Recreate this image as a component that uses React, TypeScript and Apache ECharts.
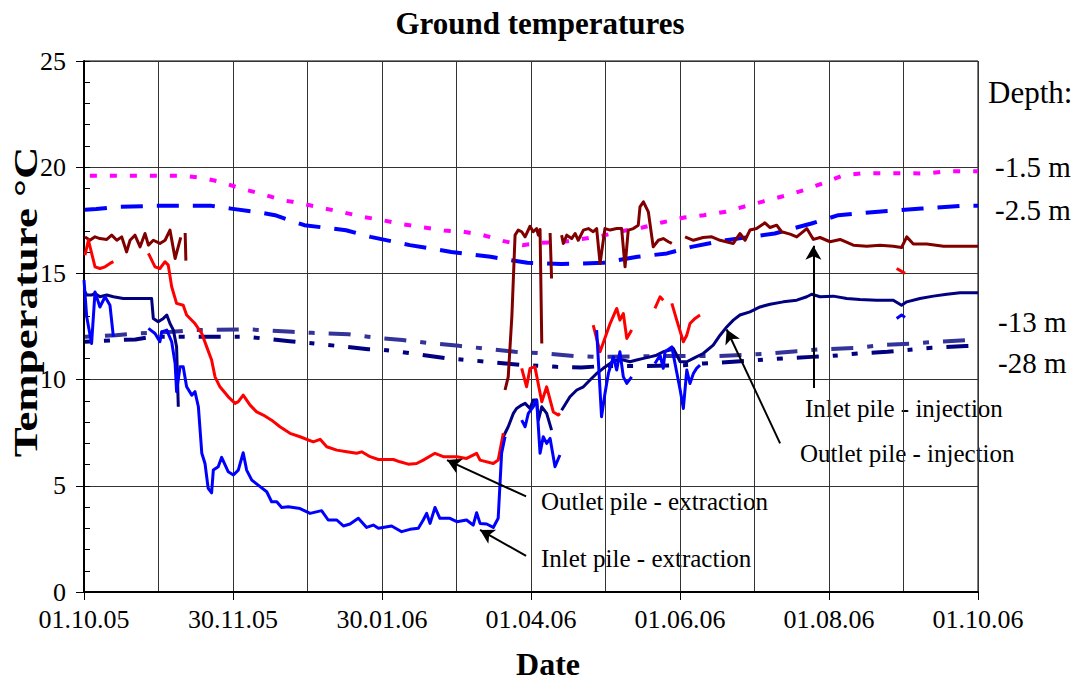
import React, { useEffect, useRef } from "react";
import * as echarts from "echarts";

const FONT = "'Liberation Serif', 'Times New Roman', serif";

// x = days since 01.10.05, y = temperature °C
const X_LABELS = ["01.10.05", "30.11.05", "30.01.06", "01.04.06", "01.06.06", "01.08.06", "01.10.06"];

type P = [number, number] | null;

const depth15: P[] = [
  [2.4, 19.6], [40, 19.6], [48, 19.5], [56, 19.3], [64, 19.0], [72, 18.76], [81, 18.45], [89, 18.29], [97, 18.09],
  [106, 17.87], [114, 17.66], [122, 17.5], [130, 17.32], [139, 17.16], [147, 17.02], [155, 16.96], [163, 16.8],
  [171, 16.53], [179, 16.33], [187, 16.44], [196, 16.49], [204, 16.63], [212, 16.78], [220, 17.0], [228, 17.16],
  [236, 17.4], [245, 17.63], [253, 17.74], [262, 17.9], [270, 18.16], [278, 18.41], [286, 18.65], [294, 18.92],
  [302, 19.26], [310, 19.62], [318, 19.72], [327, 19.72], [335, 19.72], [344, 19.7], [352, 19.81], [365, 19.81],
];

const depth25: P[] = [
  [0.4, 18.0], [5, 18.03], [13, 18.13], [28, 18.18], [52, 18.18], [60, 18.05], [70, 17.9], [78, 17.74], [90, 17.27],
  [107, 17.03], [117, 16.72], [133, 16.33], [150, 16.01], [166, 15.78], [181, 15.5], [195, 15.44], [212, 15.5],
  [226, 15.78], [238, 15.94], [248, 16.25], [262, 16.56], [282, 16.88], [297, 17.35], [308, 17.74], [328, 17.94],
  [342, 18.05], [358, 18.18], [365, 18.18],
];

const depth13: P[] = [
  [0.4, 12.02], [13, 12.09], [22, 12.17], [36, 12.25], [44, 12.33], [68, 12.36], [85, 12.25], [93, 12.2],
  [108, 12.14], [116, 12.02], [122, 11.94], [130, 11.86], [140, 11.73], [153, 11.59], [163, 11.47], [176, 11.31],
  [188, 11.23], [200, 11.11], [210, 11.07], [239, 11.11], [259, 11.11], [280, 11.23], [291, 11.34], [300, 11.42],
  [316, 11.5], [325, 11.62], [339, 11.7], [348, 11.78], [365, 11.89],
];

const depth28: P[] = [
  [0.4, 11.78], [13, 11.86], [21, 11.89], [28, 12.02], [45, 12.02], [66, 12.02], [77, 11.89], [84, 11.81],
  [94, 11.7], [107, 11.54], [116, 11.43], [122, 11.4], [129, 11.31], [139, 11.15], [148, 11.0], [157, 10.92],
  [172, 10.76], [180, 10.68], [193, 10.6], [203, 10.57], [212, 10.64], [230, 10.64], [245, 10.68], [253, 10.76],
  [265, 10.84], [286, 11.0], [297, 11.07], [305, 11.11], [316, 11.23], [328, 11.31], [336, 11.39], [346, 11.5],
  [360, 11.58], [365, 11.6],
];

const inletInjection: P[] = [
  [0.4, 16.72], [2.4, 16.56], [4.5, 16.72], [6.5, 16.64], [9.3, 16.6], [11.3, 16.8], [13.4, 16.56], [15.4, 16.72],
  [17.4, 16.01], [18.8, 16.56], [20.8, 16.8], [22.9, 16.25], [24.9, 16.88], [26.3, 16.33], [28.3, 16.56],
  [31.0, 16.41], [33.1, 16.56], [35.1, 17.04], [37.2, 15.7], [39.5, 16.7], null, [41.3, 16.9], [41.6, 15.6], null,
  [171.9, 9.51], [173.2, 10.13], [174.7, 13.0], [176.0, 16.8], [177.3, 17.04], [178.7, 16.96], [180.1, 16.72],
  [182.1, 17.22], [183.4, 16.96], [184.8, 17.11], [185.5, 16.8], [186.2, 17.07], [186.9, 11.7], null,
  [190.3, 16.9], [190.9, 14.76], null,
  [195.0, 16.8], [195.7, 16.41], [197.1, 16.8], [199.1, 16.64], [200.5, 16.88], [201.8, 16.56], [203.9, 17.04],
  [205.9, 17.11], [207.9, 16.96], [209.3, 17.11], [210.7, 15.47], [212.7, 17.11], [214.8, 17.04], [217.5, 17.11],
  [219.5, 17.11], [220.9, 15.31], [222.2, 17.04], [224.3, 17.11], [226.3, 17.27], [227.0, 18.13], [228.4, 18.37],
  [230.4, 17.9], [232.4, 16.25], [234.5, 16.56], [236.5, 16.64], [238.6, 16.49], [240.0, 16.41], null,
  [245.4, 16.72], [248.8, 16.56], [252.8, 16.69], [256.3, 16.72], [259.7, 16.56], [265.1, 16.41], [267.8, 16.88],
  [269.9, 16.56], [271.9, 17.04], [274.6, 17.11], [278.0, 17.38], [280.1, 17.16], [282.8, 17.27], [284.8, 16.96],
  [288.3, 16.85], [291.0, 16.72], [295.1, 17.11], [297.8, 16.6], [300.5, 16.69], [304.6, 16.49], [308.7, 16.6],
  [314.1, 16.33], [319.6, 16.28], [325.0, 16.33], [330.4, 16.28], [333.8, 16.22], [335.9, 16.72], [338.6, 16.38],
  [344.1, 16.38], [350.9, 16.28], [357.7, 16.28], [365, 16.28],
];

const outletExtraction: P[] = [
  [0.4, 15.86], [1.8, 16.56], [4.5, 15.31], [6.5, 15.23], [8.6, 15.31], [10.6, 15.47], [12.0, 15.55], null,
  [26.3, 15.94], [29.0, 15.31], [31.0, 15.23], [33.1, 15.55], [34.4, 15.39], [35.8, 14.37], [37.8, 13.59],
  [40.5, 13.5], [41.9, 13.04], [45.3, 12.64], [48.1, 12.17], [50.1, 11.54], [52.1, 10.92], [53.5, 10.13],
  [55.5, 9.66], [58.9, 9.19], [61.7, 8.88], [63.0, 8.96], [65.0, 9.27], [67.8, 8.8], [70.5, 8.48], [73.2, 8.33],
  [76.6, 8.09], [80.0, 7.78], [84.1, 7.47], [88.2, 7.31], [93.6, 7.07], [96.4, 7.19], [99.1, 6.84], [103.2, 6.68],
  [107.3, 6.6], [111.3, 6.53], [113.4, 6.6], [116.8, 6.37], [120.2, 6.24], [126.3, 6.24], [129.0, 6.13],
  [132.4, 6.02], [135.8, 6.05], [138.5, 6.21], [143.3, 6.53], [146.7, 6.37], [152.2, 6.37], [156.2, 6.29],
  [160.3, 6.53], [161.7, 6.21], [167.1, 6.05], [169.1, 6.21], [171.2, 7.47], null,
  [178.7, 10.53], [180.7, 9.66], [182.1, 10.53], [184.1, 10.6], [186.9, 8.96], [188.9, 9.66], [191.6, 8.48],
  [193.6, 8.33], [194.3, 8.41], null,
  [207.9, 12.56], [210.7, 11.31], [214.8, 12.64], [217.5, 13.35], [218.8, 12.8], [220.2, 13.11], [221.6, 11.94],
  [223.6, 12.33], null,
  [233.1, 13.35], [235.2, 13.9], [236.5, 13.74], null,
  [240.0, 13.59], [242.0, 12.8], [244.7, 11.78], [246.1, 12.09], [247.4, 12.64], [249.5, 12.88], [251.5, 13.04], null,
  [331.8, 15.23], [335.2, 15.0],
];

const inletExtraction: P[] = [
  [0, 14.68], [1.1, 12.96], [3.1, 11.7], [4.5, 14.13], [6.5, 13.42], [8.6, 13.9], [10.6, 13.5], [12.0, 12.01], null,
  [26.3, 12.41], [29.0, 12.17], [31.0, 11.78], [31.7, 12.25], [33.8, 12.33], [35.8, 11.78], [37.2, 10.76],
  [37.8, 9.43], [39.2, 10.6], [40.5, 10.6], [41.9, 9.66], [44.0, 9.27], [45.3, 9.43], [46.7, 8.72], [48.1, 6.53],
  [49.4, 6.05], [50.7, 4.88], [52.1, 4.67], [52.8, 5.74], [54.8, 5.9], [56.2, 6.34], [58.9, 5.66], [61.0, 5.51],
  [63.0, 5.74], [65.0, 6.56], [66.4, 5.74], [68.5, 5.27], [71.9, 4.96], [74.6, 4.72], [76.6, 4.25], [78.7, 4.25],
  [80.7, 3.98], [83.4, 4.01], [88.2, 3.93], [92.3, 3.7], [97.0, 3.83], [99.7, 3.39], [103.2, 3.39], [105.9, 3.11],
  [108.6, 3.2], [112.0, 3.47], [115.4, 3.04], [118.1, 3.15], [120.2, 3.0], [125.6, 3.11], [129.7, 2.84],
  [133.1, 2.95], [136.5, 3.0], [138.5, 3.39], [139.9, 3.7], [141.3, 3.23], [143.3, 3.98], [145.3, 3.47],
  [149.4, 3.47], [152.2, 3.31], [156.2, 3.39], [158.9, 3.15], [160.3, 3.73], [161.7, 3.23], [164.4, 3.2],
  [167.1, 3.04], [169.1, 3.47], [170.5, 6.53], [171.9, 7.31], null,
  [178.7, 8.09], [180.1, 7.78], [181.4, 8.41], [183.4, 8.72], [184.8, 9.04], [186.2, 6.53], [187.5, 7.31],
  [188.9, 7.0], [190.3, 7.23], [192.3, 5.9], [194.3, 6.45], null,
  [209.3, 12.33], [211.3, 8.25], [212.7, 9.35], [214.1, 10.29], [216.1, 11.07], [217.5, 10.45], [218.8, 11.31],
  [220.2, 10.13], [221.6, 9.82], [223.6, 10.13], null,
  [233.1, 10.76], [235.2, 11.15], [236.5, 10.53], [237.2, 11.31], [240.0, 11.54], [241.3, 10.76], [243.4, 9.51],
  [244.7, 8.64], [246.1, 10.45], [247.4, 9.82], [248.8, 10.29], [250.1, 10.53], [251.5, 10.68], null,
  [331.8, 12.88], [333.8, 13.04], [335.2, 12.93],
];

const outletInjection: P[] = [
  [0, 14.21], [1.1, 13.98], [3.1, 13.98], [4.5, 14.06], [6.5, 13.9], [9.3, 13.98], [12.0, 13.9], [16.0, 13.82],
  [20.1, 13.82], [24.2, 13.82], [27.6, 13.82], [28.3, 12.88], [30.3, 12.72], [32.4, 12.88], [33.8, 13.04],
  [35.1, 12.64], [36.5, 12.33], [37.8, 11.54], [38.5, 8.72], null,
  [171.2, 7.31], [173.2, 7.78], [175.3, 8.41], [176.6, 8.64], [178.7, 8.8], [180.1, 8.88], [182.1, 8.64],
  [183.4, 9.04], [184.8, 9.04], [185.5, 8.09], [186.9, 8.72], [188.9, 8.41], [190.9, 7.62], null,
  [195.0, 8.56], [198.4, 9.19], [201.2, 9.51], [203.9, 9.66], [206.6, 9.98], [209.3, 10.29], [212.0, 10.53],
  [214.8, 10.76], [217.5, 10.92], [220.2, 10.92], [222.9, 10.84], [225.6, 10.92], [228.4, 11.0], [231.1, 11.07],
  [233.8, 11.15], [236.5, 11.31], [239.3, 11.39], [240.6, 11.47], [243.4, 10.84], [246.1, 10.84], [248.8, 11.0],
  [252.8, 11.23], [256.9, 11.62], [259.7, 12.09], [262.4, 12.48], [265.1, 12.8], [267.8, 13.04], [271.9, 13.19],
  [276.0, 13.42], [280.1, 13.55], [285.5, 13.66], [291.0, 13.74], [295.1, 13.9], [297.1, 14.02], [300.5, 13.9],
  [305.9, 13.93], [311.4, 13.82], [316.8, 13.77], [323.6, 13.74], [330.4, 13.74], [333.8, 13.5], [335.9, 13.66],
  [341.3, 13.82], [346.8, 13.93], [352.3, 14.02], [357.7, 14.09], [365, 14.09],
];

// annotation arrows: [tailX, tailY, tipX, tipY] in data units
const ARROWS: [number, number, number, number][] = [
  [180.5, 4.5, 148.2, 6.21],
  [180.5, 1.7, 161.7, 2.92],
  [297.8, 9.6, 297.8, 16.3],
  [284.2, 7.0, 262.4, 12.36],
];

function toData(arr: P[]) {
  const out: any[] = [];
  let lastX = 0;
  for (const p of arr) {
    if (p === null) out.push([lastX + 0.05, "-"]);
    else {
      out.push(p);
      lastX = p[0];
    }
  }
  return out;
}

export default function App() {
  const ref = useRef<HTMLDivElement>(null);
  useEffect(() => {
    const chart = echarts.init(ref.current!, null, { renderer: "svg" });
    const line = (name: string, data: P[], color: string, width: number, type: any, z = 2) => ({
      name,
      type: "line",
      data: toData(data),
      showSymbol: false,
      symbol: "none",
      connectNulls: false,
      xAxisIndex: 0,
      yAxisIndex: 0,
      z,
      lineStyle: { color, width, type, cap: "butt", join: "round" },
    });
    const label = (text: string, x: number, y: number, size = 25) => ({
      type: "text",
      x,
      y,
      style: { text, font: `${size}px ${FONT}`, fill: "#000", textVerticalAlign: "middle", verticalAlign: "middle" },
    });
    chart.setOption({
      animation: false,
      backgroundColor: "#fff",
      textStyle: { fontFamily: FONT, color: "#000" },
      title: {
        text: "Ground temperatures",
        left: 535,
        top: 3,
        textAlign: "center",
        textStyle: { fontFamily: FONT, fontWeight: "bold", fontSize: 31, color: "#000" },
      },
      grid: {
        left: 84,
        right: 96,
        top: 61,
        bottom: 89,
        containLabel: false,
        outerBoundsMode: "none",
        show: true,
        borderColor: "#000",
        borderWidth: 1,
      },
      xAxis: [
        {
          type: "value",
          min: 0,
          max: 365,
          interval: 365 / 12,
          axisLine: { show: false },
          axisTick: { show: false },
          axisLabel: { show: false },
          splitLine: { show: true, lineStyle: { color: "#333", width: 1 } },
        },
        {
          type: "value",
          position: "bottom",
          min: 0,
          max: 365,
          interval: 365 / 6,
          name: "Date",
          nameLocation: "middle",
          nameGap: 56,
          nameTextStyle: { fontFamily: FONT, fontWeight: "bold", fontSize: 32, color: "#000", padding: [0, 0, 0, 34] },
          axisLine: { show: true, lineStyle: { color: "#000", width: 2 } },
          axisTick: { show: true, length: 8, lineStyle: { color: "#000", width: 1 } },
          axisLabel: {
            margin: 14,
            fontFamily: FONT,
            fontSize: 26,
            color: "#000",
            formatter: (v: number) => X_LABELS[Math.round(v / (365 / 6))] ?? "",
          },
          splitLine: { show: false },
        },
      ],
      yAxis: [
        {
          type: "value",
          min: 0,
          max: 25,
          interval: 5,
          axisLine: { show: true, lineStyle: { color: "#000", width: 2 } },
          axisTick: { show: true, length: 8, lineStyle: { color: "#000" } },
          axisLabel: { margin: 18, fontFamily: FONT, fontSize: 26, color: "#000" },
          splitLine: { show: true, lineStyle: { color: "#333", width: 1 } },
        },
        {
          type: "value",
          position: "left",
          min: 0,
          max: 25,
          interval: 1,
          axisLine: { show: false },
          axisTick: { show: true, inside: true, length: 6, lineStyle: { color: "#000" } },
          axisLabel: { show: false },
          splitLine: { show: false },
        },
      ],
      series: [
        line("-28 m", depth28, "#000080", 4, [5, 14, 6, 14, 22, 14], 1),
        line("-13 m", depth13, "#333399", 4, [6, 14, 22, 14], 1),
        line("-2.5 m", depth25, "#0000ff", 4, [22, 14], 1),
        line("-1.5 m", depth15, "#ff00ff", 4, [7, 13], 1),
        {
          ...line("Inlet pile - injection", inletInjection, "#800000", 3, "solid", 3),
          markLine: {
            silent: true,
            symbol: ["none", "arrow"],
            symbolSize: [12, 14],
            label: { show: false },
            lineStyle: { color: "#000", width: 2, type: "solid" },
            data: ARROWS.map(([x1, y1, x2, y2]) => [{ coord: [x1, y1] }, { coord: [x2, y2] }]),
          },
        },
        line("Outlet pile - injection", outletInjection, "#000080", 3, "solid", 3),
        line("Outlet pile - extraction", outletExtraction, "#ff0000", 3, "solid", 4),
        line("Inlet pile - extraction", inletExtraction, "#0000ff", 3, "solid", 4),
      ],
      graphic: [
        {
          type: "text",
          x: 26,
          y: 302,
          rotation: Math.PI / 2,
          scaleX: 1.32,
          style: {
            text: "Temperature °C",
            font: `bold 34px ${FONT}`,
            fill: "#000",
            align: "center",
            verticalAlign: "middle",
          },
        },
        label("Outlet pile - extraction", 541, 501),
        label("Inlet pile - extraction", 541, 558),
        label("Inlet pile - injection", 805, 408),
        label("Outlet pile - injection", 800, 453),
        label("Depth:", 988, 92, 31),
        label("-1.5 m", 995, 167, 29),
        label("-2.5 m", 995, 210, 29),
        label("-13 m", 998, 322, 29),
        label("-28 m", 998, 363, 29),
      ],
    });
    return () => chart.dispose();
  }, []);
  return <div ref={ref} style={{ position: "fixed", left: 0, top: 0, width: 1074, height: 681 }} />;
}
